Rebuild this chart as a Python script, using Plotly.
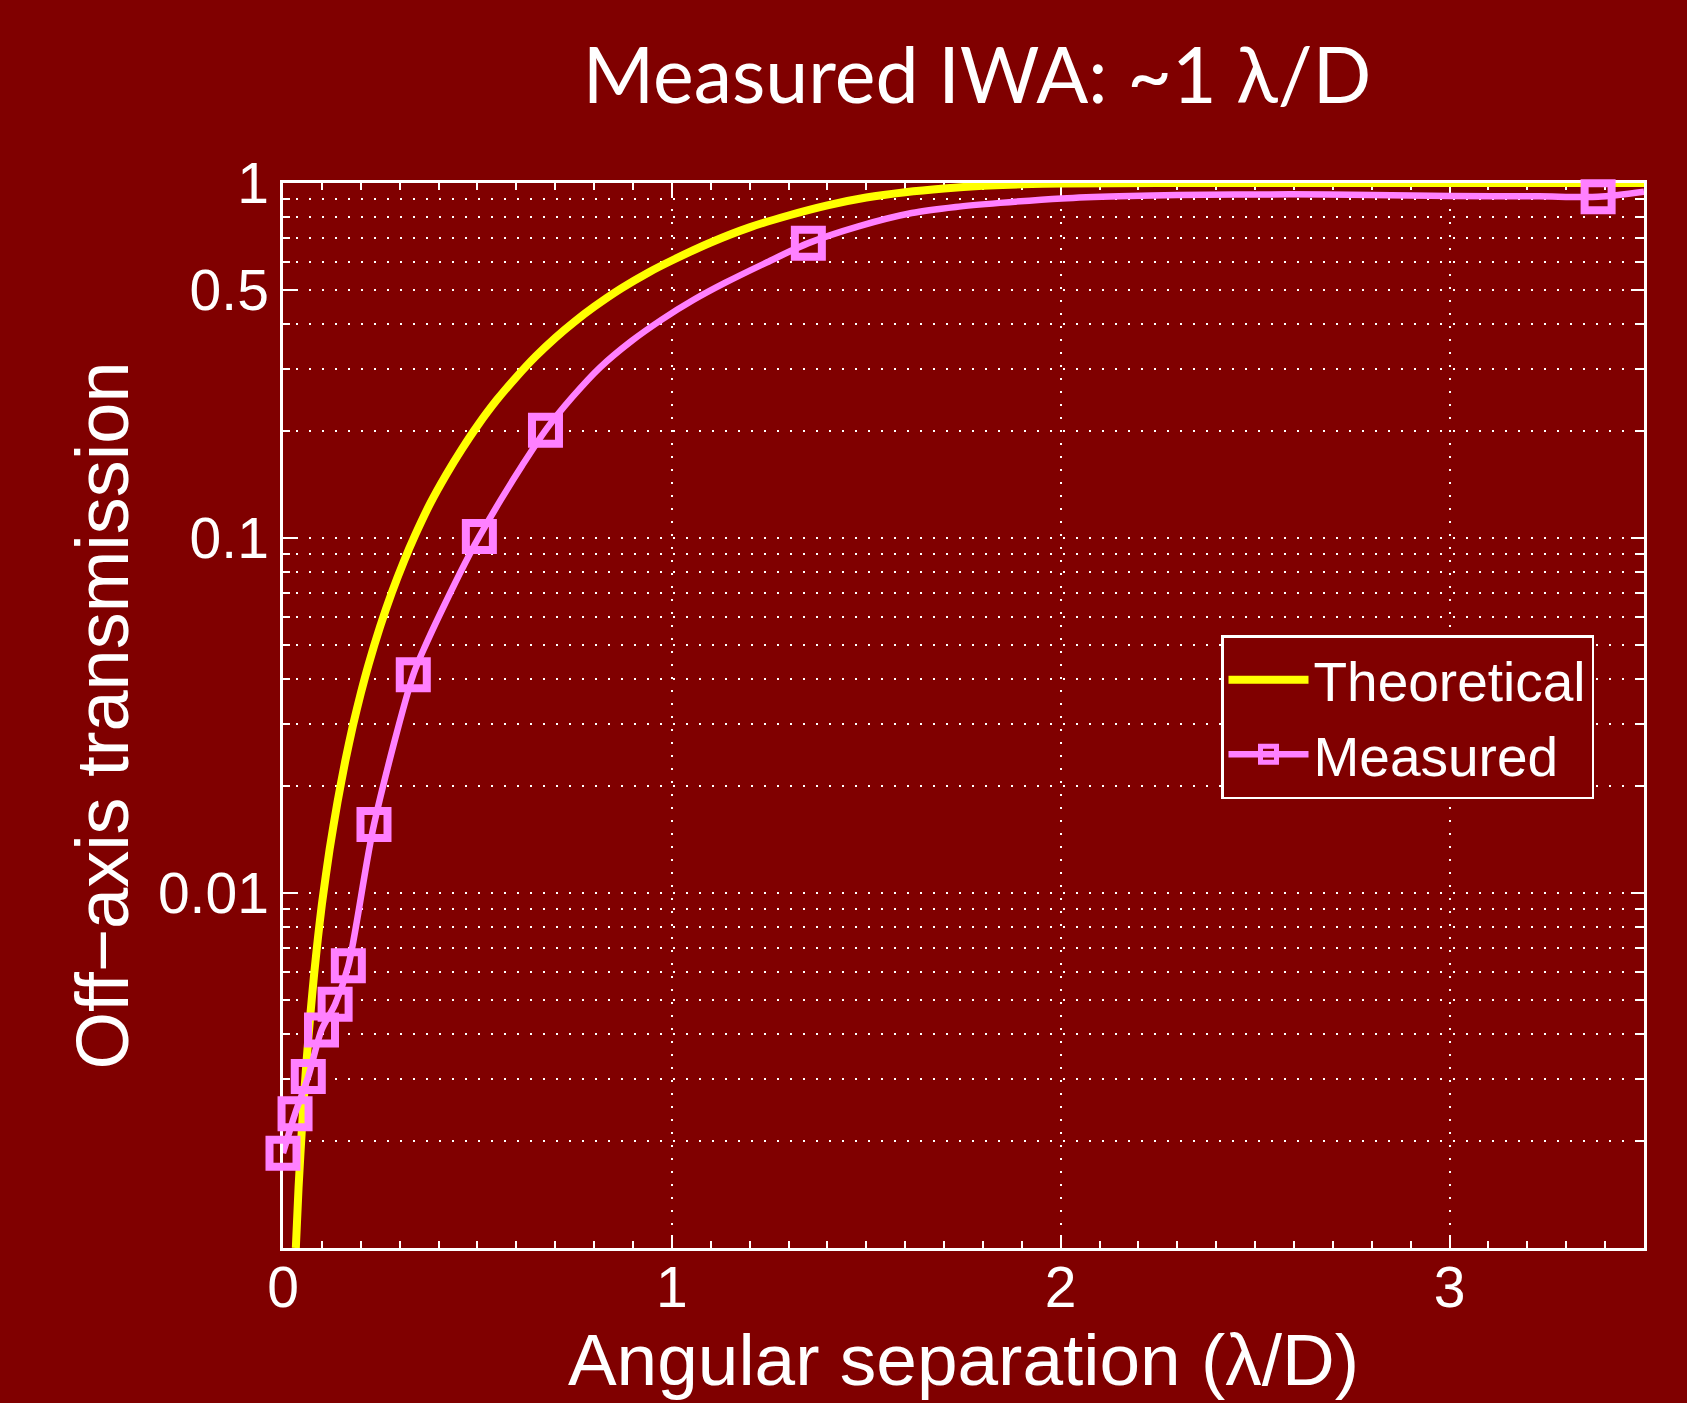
import plotly.graph_objects as go

# ---- data ----
# Theoretical off-axis transmission curve
theory_sep = [0.033, 0.040, 0.050, 0.060, 0.070, 0.080, 0.090, 0.100, 0.120, 0.140,
              0.160, 0.180, 0.200, 0.220, 0.250, 0.280, 0.310, 0.340, 0.380, 0.420,
              0.460, 0.500, 0.550, 0.600, 0.650, 0.700, 0.750, 0.800, 0.870, 0.940,
              1.000, 1.100, 1.200, 1.300, 1.400, 1.500, 1.600, 1.700, 1.800, 1.900,
              2.000, 2.250, 2.500, 3.000, 3.500]
theory_trans = [0.0010, 0.00148, 0.0023, 0.0033, 0.0045, 0.0059, 0.0075, 0.0093, 0.0133,
                0.018, 0.0235, 0.0297, 0.0365, 0.044, 0.0564, 0.0703, 0.0855, 0.102,
                0.126, 0.151, 0.178, 0.207, 0.245, 0.284, 0.325, 0.366, 0.407, 0.448,
                0.505, 0.560, 0.605, 0.680, 0.750, 0.810, 0.865, 0.910, 0.942, 0.965,
                0.982, 0.992, 0.997, 1.0, 1.0, 1.0, 1.0]

# Measured curve (smooth line through the measurements)
measured_curve_sep = [0.000, 0.031, 0.065, 0.099, 0.134, 0.168, 0.234, 0.335, 0.367,
                      0.430, 0.480, 0.505, 0.560, 0.615, 0.675, 0.745, 0.815, 0.895,
                      0.975, 1.055, 1.135, 1.245, 1.351, 1.480, 1.617, 1.730, 1.844,
                      2.003, 2.150, 2.300, 2.589, 2.800, 3.000, 3.230, 3.382, 3.500]
measured_curve_trans = [0.00185, 0.00239, 0.00304, 0.00411, 0.00486, 0.00624, 0.0156,
                        0.0412, 0.050, 0.070, 0.090, 0.101, 0.128, 0.160, 0.201, 0.250,
                        0.302, 0.358, 0.413, 0.468, 0.522, 0.598, 0.677, 0.755, 0.823,
                        0.856, 0.879, 0.905, 0.918, 0.925, 0.929, 0.925, 0.919, 0.917,
                        0.915, 0.945]

# Measured points (square markers)
measured_sep = [0.000, 0.031, 0.065, 0.099, 0.134, 0.168, 0.234, 0.335, 0.505, 0.675,
                1.351, 3.382]
measured_trans = [0.00185, 0.00239, 0.00304, 0.00411, 0.00486, 0.00624, 0.0156, 0.0412,
                  0.101, 0.201, 0.677, 0.915]

x_tick_vals = [0, 1, 2, 3]
x_tick_text = ["0", "1", "2", "3"]
y_tick_vals = [0.01, 0.1, 0.5, 1]
y_tick_text = ["0.01", "0.1", "0.5", "1"]
y_minor_vals = [0.002, 0.003, 0.004, 0.005, 0.006, 0.007, 0.008, 0.009,
                0.02, 0.03, 0.04, 0.05, 0.06, 0.07, 0.08, 0.09,
                0.2, 0.3, 0.4, 0.6, 0.7, 0.8, 0.9]

BG = "#800000"
YELLOW = "#FFFF00"
PINK = "#FF80FF"
WHITE = "#FFFFFF"
AX_FONT = "Liberation Sans, Arial, Helvetica, sans-serif"
GRID_DASH = "2px,11px"

fig = go.Figure()

fig.add_trace(go.Scatter(
    x=theory_sep, y=theory_trans, mode="lines", name="Theoretical",
    line=dict(color=YELLOW, width=8, shape="spline", smoothing=0.6),
    cliponaxis=False,
))
fig.add_trace(go.Scatter(
    x=measured_curve_sep, y=measured_curve_trans, mode="lines", name="Measured",
    line=dict(color=PINK, width=6.5, shape="spline", smoothing=0.8),
    showlegend=False, legendgroup="meas",
))
fig.add_trace(go.Scatter(
    x=measured_sep, y=measured_trans, mode="markers", name="Measured",
    marker=dict(symbol="square-open", size=27, color=PINK, line=dict(color=PINK, width=8)),
    showlegend=False, legendgroup="meas", cliponaxis=False,
))
# legend entry for the measured series (line + marker)
fig.add_trace(go.Scatter(
    x=[None], y=[None], mode="lines+markers", name="Measured", legendgroup="meas",
    line=dict(color=PINK, width=6.5),
    marker=dict(symbol="square-open", size=16, color=PINK, line=dict(color=PINK, width=5)),
))

fig.update_layout(
    width=1687, height=1403, autosize=False,
    margin=dict(l=283, r=43, t=183, b=155, pad=0),
    paper_bgcolor=BG, plot_bgcolor=BG,
    font=dict(family=AX_FONT, color=WHITE),
    title=dict(
        text="Measured IWA: ~1 λ/D",
        font=dict(family="Lato, Open Sans, sans-serif", size=77, color=WHITE),
        x=977 / 1687, xanchor="center", xref="container",
        y=1 - 76 / 1403, yanchor="middle", yref="container",
    ),
    showlegend=True,
    legend=dict(
        x=(1221 - 283) / 1361, xanchor="left",
        y=(1248 - 635) / 1065, yanchor="top",
        bgcolor=BG, bordercolor=WHITE, borderwidth=2.5,
        font=dict(family=AX_FONT, size=55, color=WHITE),
        itemwidth=80, tracegroupgap=0,
    ),
)

fig.update_xaxes(
    range=[0, 3.5], showline=True, linecolor=WHITE, linewidth=2.5, mirror="allticks",
    tickmode="array", tickvals=x_tick_vals, ticktext=x_tick_text,
    ticks="inside", ticklen=13, tickwidth=2, tickcolor=WHITE,
    tickfont=dict(family=AX_FONT, size=57, color=WHITE), ticklabelstandoff=-12,
    showgrid=True, gridcolor=WHITE, gridwidth=2, griddash=GRID_DASH,
    zeroline=False, layer="below traces",
    minor=dict(dtick=0.1, tick0=0, ticks="inside", ticklen=7, tickwidth=2,
               tickcolor=WHITE, showgrid=False),
    title=dict(text="Angular separation (λ/D)",
               font=dict(family=AX_FONT, size=73, color=WHITE), standoff=0),
)
fig.update_yaxes(
    type="log", range=[-3, 0], showline=True, linecolor=WHITE, linewidth=2.5,
    mirror="allticks",
    tickmode="array", tickvals=y_tick_vals, ticktext=y_tick_text,
    ticks="inside", ticklen=13, tickwidth=2, tickcolor=WHITE,
    tickfont=dict(family=AX_FONT, size=57, color=WHITE),
    showgrid=True, gridcolor=WHITE, gridwidth=2, griddash=GRID_DASH,
    zeroline=False, layer="below traces",
    minor=dict(tickmode="array", tickvals=y_minor_vals, ticks="inside", ticklen=7,
               tickwidth=2, tickcolor=WHITE, showgrid=True, gridcolor=WHITE,
               gridwidth=2, griddash=GRID_DASH),
    title=dict(text="Off−axis transmission",
               font=dict(family=AX_FONT, size=74, color=WHITE), standoff=5),
)

fig.write_html(
    "out.html",
    config={"displayModeBar": False},
    post_script="document.body.style.margin='0px';"
                "document.body.style.background='" + BG + "';",
)
